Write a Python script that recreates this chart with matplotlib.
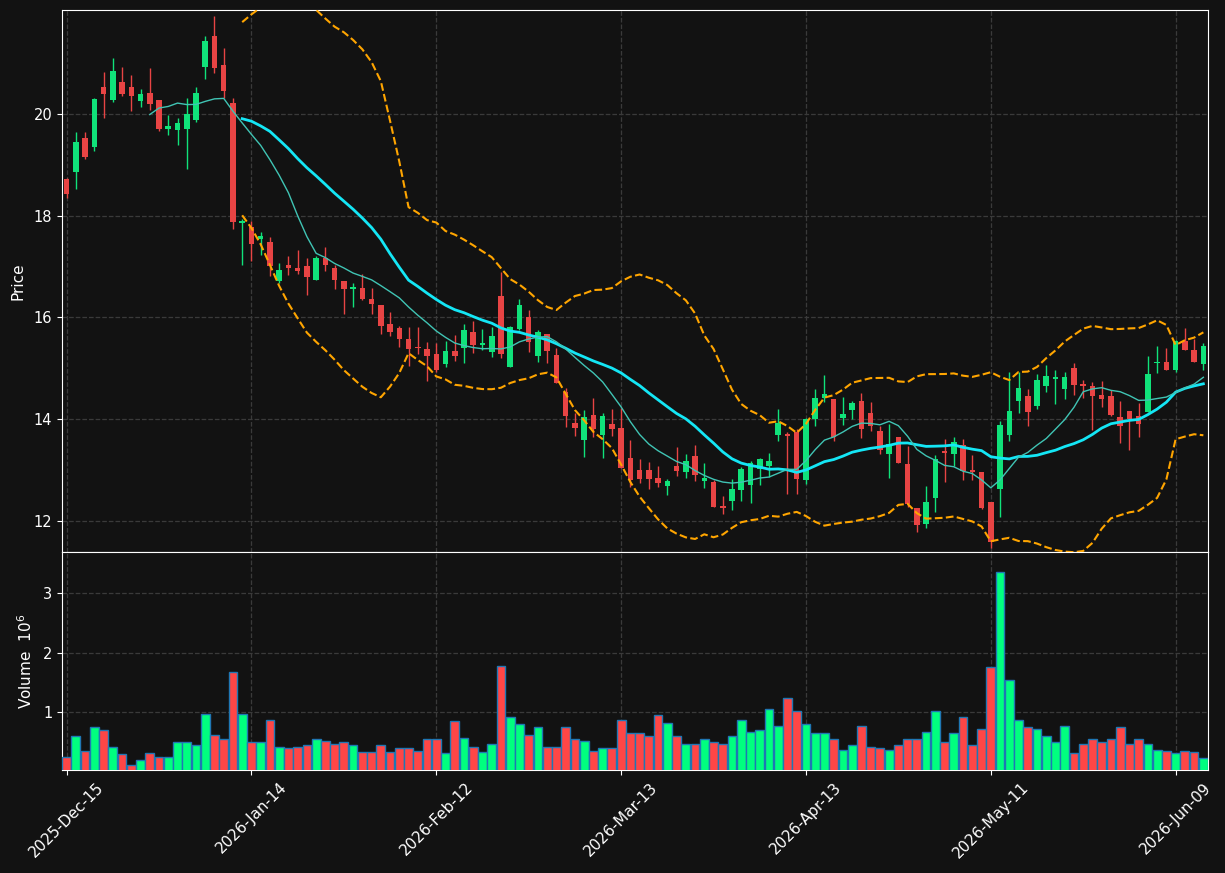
import numpy as np
import pandas as pd
import matplotlib
matplotlib.use('Agg')
import matplotlib.pyplot as plt

# trading days (NYSE calendar) from 2025-12-15
holidays = ['2025-12-25', '2026-01-01', '2026-01-19', '2026-02-16', '2026-04-03', '2026-05-25']
dates = pd.bdate_range('2025-12-15', periods=124, freq='C', holidays=holidays)

opens = [18.71, 18.85, 19.52, 19.35, 20.52, 20.26, 20.61, 20.52, 20.24, 20.41,
         20.26, 19.70, 19.67, 19.70, 19.87, 20.91, 21.53, 20.95, 20.20, 17.86,
         17.77, 17.53, 17.48, 16.72, 17.02, 16.98, 17.00, 16.74, 17.16, 16.98,
         16.71, 16.56, 16.57, 16.36, 16.24, 15.87, 15.79, 15.58, 15.42, 15.38,
         15.29, 15.09, 15.34, 15.40, 15.71, 15.46, 15.33, 16.42, 15.03, 15.77,
         16.01, 15.24, 15.67, 15.26, 14.54, 13.93, 13.60, 14.08, 13.69, 13.91,
         13.83, 13.24, 13.01, 13.01, 12.85, 12.70, 13.08, 12.97, 13.28, 12.80,
         12.77, 12.31, 12.41, 12.62, 12.72, 13.03, 13.08, 13.70, 13.72, 13.76,
         12.82, 14.00, 14.43, 14.40, 14.02, 14.19, 14.36, 14.12, 13.77, 13.32,
         13.66, 13.12, 12.27, 11.94, 12.46, 13.38, 13.32, 13.49, 13.00, 12.96,
         12.38, 12.63, 13.69, 14.36, 14.46, 14.26, 14.65, 14.79, 14.60, 15.01,
         14.69, 14.65, 14.48, 14.46, 14.04, 14.16, 14.07, 14.15, 15.10, 15.13,
         14.96, 15.54, 15.36, 15.09]
highs = [18.74, 19.63, 19.64, 20.30, 20.82, 21.08, 20.92, 20.76, 20.49, 20.90,
         20.26, 19.98, 19.91, 20.31, 20.53, 21.52, 21.91, 21.29, 20.31, 17.93,
         17.89, 17.68, 17.57, 17.06, 17.21, 17.33, 17.16, 17.20, 17.39, 17.03,
         16.71, 16.67, 16.86, 16.57, 16.24, 16.10, 15.84, 15.81, 15.82, 15.52,
         15.49, 15.53, 15.65, 15.87, 15.93, 15.77, 15.82, 16.89, 15.84, 16.37,
         16.14, 15.75, 15.67, 15.41, 14.61, 14.12, 14.19, 14.43, 14.12, 14.21,
         14.23, 13.59, 13.23, 13.16, 13.09, 12.83, 13.45, 13.32, 13.49, 13.14,
         12.81, 12.50, 12.83, 13.07, 13.18, 13.25, 13.34, 14.21, 13.76, 13.81,
         14.02, 14.59, 14.87, 14.40, 14.44, 14.36, 14.51, 14.35, 13.88, 13.92,
         13.66, 13.48, 12.27, 12.69, 13.31, 13.62, 13.66, 13.61, 13.31, 12.96,
         12.38, 13.96, 14.94, 14.94, 14.59, 14.89, 15.06, 14.96, 14.93, 15.10,
         14.78, 14.73, 14.75, 14.58, 14.36, 14.16, 14.33, 15.24, 15.44, 15.40,
         15.56, 15.80, 15.57, 15.50]
lows = [18.35, 18.52, 19.11, 19.26, 19.91, 20.23, 20.34, 20.04, 20.12, 20.07,
        19.66, 19.58, 19.38, 18.91, 19.84, 20.67, 20.80, 20.31, 17.74, 17.02,
        17.11, 17.22, 16.82, 16.68, 16.84, 16.86, 16.45, 16.74, 16.91, 16.55,
        16.07, 16.21, 16.34, 16.06, 15.67, 15.64, 15.42, 15.05, 15.29, 14.76,
        14.93, 15.03, 15.14, 15.11, 15.31, 15.37, 15.23, 15.21, 15.03, 15.75,
        15.33, 15.12, 15.11, 14.72, 13.86, 13.68, 13.27, 13.66, 13.25, 13.68,
        13.05, 12.68, 12.76, 12.64, 12.68, 12.51, 12.89, 12.86, 12.80, 12.66,
        12.29, 12.15, 12.22, 12.41, 12.37, 12.72, 12.88, 13.57, 12.53, 12.53,
        12.74, 13.87, 14.34, 13.57, 13.89, 14.00, 13.64, 13.78, 13.32, 12.86,
        13.15, 12.29, 11.80, 11.88, 12.18, 12.78, 13.08, 12.81, 12.81, 12.25,
        11.47, 12.08, 13.57, 14.12, 13.88, 14.20, 14.53, 14.31, 14.40, 14.47,
        14.43, 13.79, 14.25, 14.07, 13.53, 13.41, 13.65, 14.15, 14.91, 14.96,
        14.94, 15.37, 15.13, 14.97]
closes = [18.42, 19.44, 19.15, 20.28, 20.38, 20.83, 20.39, 20.35, 20.38, 20.19,
          19.69, 19.75, 19.81, 19.99, 20.41, 21.42, 20.89, 20.44, 17.87, 17.89,
          17.44, 17.59, 17.01, 16.94, 16.97, 16.91, 16.80, 17.16, 17.03, 16.74,
          16.56, 16.59, 16.36, 16.26, 15.84, 15.72, 15.58, 15.38, 15.41, 15.25,
          14.96, 15.34, 15.25, 15.75, 15.46, 15.49, 15.63, 15.29, 15.81, 16.24,
          15.52, 15.71, 15.35, 14.72, 14.07, 13.84, 14.04, 13.81, 14.06, 13.81,
          13.05, 12.81, 12.84, 12.84, 12.76, 12.79, 12.99, 13.18, 12.91, 12.85,
          12.29, 12.27, 12.63, 13.03, 13.14, 13.22, 13.18, 13.93, 13.68, 12.84,
          14.00, 14.43, 14.49, 13.66, 14.10, 14.33, 13.82, 13.87, 13.41, 13.52,
          13.15, 12.35, 11.92, 12.39, 13.22, 13.34, 13.55, 12.99, 12.96, 12.27,
          11.60, 13.90, 14.16, 14.61, 14.15, 14.77, 14.85, 14.83, 14.83, 14.68,
          14.65, 14.46, 14.40, 14.09, 13.88, 14.01, 13.91, 14.89, 15.13, 14.97,
          15.54, 15.37, 15.13, 15.44]
volumes = [260000, 610000, 360000, 750000, 710000, 430000, 310000, 126000, 210000, 330000,
           260000, 260000, 500000, 500000, 450000, 970000, 630000, 560000, 1670000, 980000,
           510000, 500000, 870000, 430000, 400000, 430000, 460000, 550000, 530000, 480000,
           510000, 450000, 340000, 340000, 450000, 340000, 410000, 400000, 360000, 560000,
           550000, 330000, 850000, 580000, 430000, 340000, 480000, 1770000, 930000, 800000,
           630000, 760000, 430000, 430000, 760000, 550000, 530000, 360000, 400000, 410000,
           870000, 660000, 650000, 610000, 950000, 820000, 610000, 480000, 480000, 550000,
           500000, 480000, 610000, 880000, 680000, 710000, 1050000, 780000, 1240000, 1020000,
           800000, 660000, 650000, 560000, 380000, 450000, 780000, 430000, 410000, 380000,
           450000, 550000, 550000, 680000, 1030000, 510000, 660000, 920000, 460000, 730000,
           1760000, 3350000, 1550000, 870000, 760000, 730000, 600000, 510000, 780000, 330000,
           480000, 560000, 510000, 560000, 760000, 480000, 560000, 480000, 380000, 360000,
           330000, 360000, 340000, 230000]

df = pd.DataFrame({'Open': opens, 'High': highs, 'Low': lows,
                   'Close': closes, 'Volume': volumes}, index=dates)

ma10 = df['Close'].rolling(10).mean()
ma20 = df['Close'].rolling(20).mean()
sd20 = df['Close'].rolling(20).std()
bb_up = ma20 + 2 * sd20
bb_lo = ma20 - 2 * sd20

bg = '#121212'
up_c, dn_c = '#10e27a', '#e84444'
vup_c, vdn_c = '#00ff7f', '#ff4646'

fig = plt.figure(figsize=(12.25, 8.73), dpi=100, facecolor=bg)
ax = fig.add_axes([0.0506, 0.3677, 0.9355, 0.6208], facecolor=bg)
axv = fig.add_axes([0.0506, 0.118, 0.9355, 0.2497], facecolor=bg, sharex=ax)

x = np.arange(len(df))
up = df['Close'] >= df['Open']
colors = np.where(up, up_c, dn_c)

ax.vlines(x, df['Low'], df['High'], colors=colors, lw=1, zorder=3)
body_lo = np.minimum(df['Open'], df['Close'])
body_h = np.maximum((df['Close'] - df['Open']).abs(), 0.02)
ax.bar(x, body_h, bottom=body_lo, width=0.6, color=colors, zorder=4)

ax.plot(x, ma20, color='#14e6f5', lw=2, zorder=5)
ax.plot(x, ma10, color='#40c4b4', lw=1, zorder=5)
ax.plot(x, bb_up, color='#ffa500', lw=1.5, ls='--', zorder=5)
ax.plot(x, bb_lo, color='#ffa500', lw=1.5, ls='--', zorder=5)

vcolors = np.where(up, vup_c, vdn_c)
vol_m = df['Volume'] / 1e6
axv.bar(x, vol_m, width=0.95, color=vcolors, edgecolor='#1f77b4', lw=1, zorder=3)

ax.set_xlim(-0.5, len(df) - 0.5)
ax.set_ylim(11.40, 22.03)
axv.set_ylim(0.3 * vol_m.min(), 1.1 * vol_m.max())

ticks = np.arange(0, len(df), 20)
axv.set_xticks(ticks)
axv.set_xticklabels([d.strftime('%Y-%b-%d') for d in dates[ticks]], rotation=45, fontsize=11)
ax.tick_params(axis='x', labelbottom=False, length=0)
ax.set_yticks([12, 14, 16, 18, 20])
axv.set_yticks([1, 2, 3])

ax.set_ylabel('Price', color='white', fontsize=11, labelpad=6)
axv.set_ylabel('Volume  $10^{6}$', color='white', fontsize=11, labelpad=6)

for a in (ax, axv):
    a.grid(True, ls='--', color='#3a3a3a', lw=0.9)
    a.set_axisbelow(True)
    a.tick_params(axis='y', colors='white', labelsize=10.5)
    a.tick_params(axis='x', colors='white')
    for s in a.spines.values():
        s.set_color('white')

fig.savefig('out.png', dpi=100, facecolor=bg)
